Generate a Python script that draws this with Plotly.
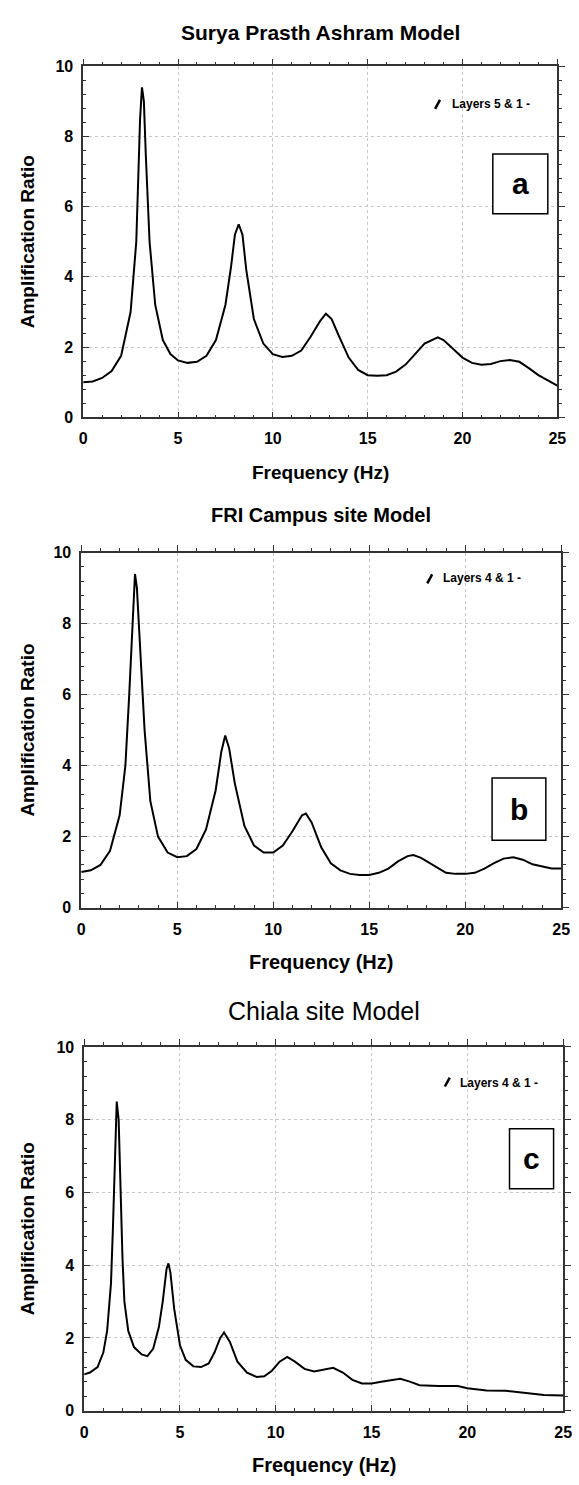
import plotly.graph_objects as go

W, H = 579, 1485

# ---------------- data ----------------
titles = ["Surya Prasth Ashram Model", "FRI Campus site Model", "Chiala site Model"]
legend_texts = ["Layers 5 & 1 -", "Layers 4 & 1 -", "Layers 4 & 1 -"]
panel_letters = ["a", "b", "c"]
x_ticks = [0, 5, 10, 15, 20, 25]
y_ticks = [0, 2, 4, 6, 8, 10]

freq_a = [0, 0.5, 1, 1.5, 2, 2.5, 2.8, 3.0, 3.1, 3.2, 3.3, 3.5, 3.8, 4.2, 4.6, 5, 5.5, 6, 6.5, 7,
          7.5, 7.8, 8.0, 8.2, 8.4, 8.6, 9.0, 9.5, 10, 10.5, 11, 11.5, 12, 12.5, 12.8, 13.1, 13.5,
          14, 14.5, 15, 15.5, 16, 16.5, 17, 17.5, 18, 18.7, 19, 19.5, 20, 20.5, 21, 21.5, 22,
          22.5, 23, 23.5, 24, 24.5, 25]
amp_a = [1.0, 1.02, 1.12, 1.32, 1.75, 3.0, 5.0, 8.5, 9.4, 9.0, 7.5, 5.0, 3.2, 2.2, 1.8, 1.62,
         1.55, 1.58, 1.75, 2.2, 3.2, 4.3, 5.2, 5.5, 5.2, 4.2, 2.8, 2.1, 1.8, 1.72, 1.75, 1.9,
         2.3, 2.75, 2.95, 2.8, 2.3, 1.7, 1.35, 1.2, 1.18, 1.2, 1.3, 1.5, 1.8, 2.1, 2.28, 2.2,
         1.95, 1.7, 1.55, 1.5, 1.52, 1.6, 1.63, 1.58, 1.4, 1.2, 1.05, 0.9]

freq_b = [0, 0.5, 1, 1.5, 2, 2.3, 2.5, 2.7, 2.8, 2.9, 3.1, 3.3, 3.6, 4, 4.5, 5, 5.5, 6, 6.5, 7,
          7.3, 7.5, 7.7, 8, 8.5, 9, 9.5, 10, 10.5, 11, 11.5, 11.7, 12, 12.5, 13, 13.5, 14, 14.5,
          15, 15.5, 16, 16.5, 17, 17.3, 17.7, 18.5, 19, 19.5, 20, 20.5, 21, 21.5, 22, 22.5, 23,
          23.5, 24, 24.5, 25]
amp_b = [1.0, 1.05, 1.2, 1.6, 2.6, 4.0, 6.0, 8.5, 9.4, 9.0, 7.0, 5.0, 3.0, 2.0, 1.55, 1.42,
         1.45, 1.65, 2.2, 3.3, 4.4, 4.85, 4.5, 3.5, 2.3, 1.75, 1.55, 1.55, 1.75, 2.15, 2.6,
         2.65, 2.4, 1.7, 1.25, 1.05, 0.95, 0.92, 0.92, 0.98, 1.1, 1.3, 1.45, 1.48, 1.4, 1.15,
         0.98, 0.95, 0.95, 0.98, 1.1, 1.25, 1.38, 1.42, 1.35, 1.22, 1.15, 1.1, 1.1]

freq_c = [0, 0.3, 0.7, 1.0, 1.2, 1.4, 1.5, 1.6, 1.7, 1.8, 1.9, 2.0, 2.1, 2.3, 2.6, 3.0, 3.3,
          3.6, 3.9, 4.1, 4.3, 4.4, 4.5, 4.7, 5.0, 5.3, 5.7, 6.1, 6.5, 6.8, 7.1, 7.3, 7.6, 8.0,
          8.5, 9.0, 9.4, 9.8, 10.2, 10.6, 11.0, 11.5, 12.0, 12.5, 13.0, 13.5, 14.0, 14.5, 15.0,
          15.5, 16.0, 16.5, 17.0, 17.5, 18.5, 19.5, 20.0, 21, 22, 23, 24, 25]
amp_c = [1.0, 1.05, 1.2, 1.6, 2.2, 3.5, 5.0, 7.0, 8.5, 8.0, 6.0, 4.2, 3.0, 2.2, 1.75, 1.55,
         1.5, 1.7, 2.3, 3.0, 3.9, 4.05, 3.8, 2.8, 1.8, 1.4, 1.22, 1.2, 1.3, 1.6, 2.0, 2.15,
         1.9, 1.35, 1.05, 0.93, 0.95, 1.1, 1.35, 1.48, 1.35, 1.15, 1.08, 1.12, 1.18, 1.05,
         0.85, 0.75, 0.75, 0.8, 0.85, 0.88, 0.8, 0.7, 0.68, 0.68, 0.62, 0.56, 0.55, 0.5, 0.43,
         0.42]

series = [(freq_a, amp_a), (freq_b, amp_b), (freq_c, amp_c)]

# ---------------- layout geometry (pixels) ----------------
plots = [  # x0, x1, ytop, ybottom
    (81, 566, 59, 414),
    (79, 570, 551, 910),
    (82, 572, 1051, 1419),
]
title_y = [25, 513, 1015]
title_size = [21, 20, 25]
title_bold = [True, True, False]
xtitle_y = [470, 965, 1474]
xtitle_size = [19, 20, 20]
# legend: slash segment (x0, y0, x1, y1) and text left position (x, y)
legend_slash = [(441, 102, 446, 93), (433, 582, 438, 573), (451, 1091, 456, 1082)]
legend_text_pos = [(456, 97), (447, 577), (464, 1087)]
# label boxes in data units: (f0, f1, a_bottom, a_top)
boxes = [(21.6, 24.5, 5.8, 7.5), (21.4, 24.2, 1.9, 3.65), (22.2, 24.5, 6.1, 7.75)]

FONT = "Liberation Sans, Arial, sans-serif"


def px(x):
    return x / W


def py(y):
    return 1 - y / H


fig = go.Figure()
layout = dict(width=W, height=H, autosize=False, margin=dict(l=0, r=0, t=0, b=0),
              paper_bgcolor="white", plot_bgcolor="white", showlegend=False,
              font=dict(family=FONT, color="black"))
annotations = []
shapes = []
AX = "#333333"
tickfont = dict(size=16, family=FONT, color="black", weight="bold")

for i, ((fx, fy), (x0, x1, yt, yb)) in enumerate(zip(series, plots)):
    n = i + 1
    xa = "x" if n == 1 else f"x{n}"
    ya = "y" if n == 1 else f"y{n}"
    fig.add_trace(go.Scatter(x=fx, y=fy, mode="lines", xaxis=xa, yaxis=ya,
                             line=dict(color="black", width=2), hoverinfo="skip"))
    dom_x = [px(x0), px(x1)]
    dom_y = [py(yb), py(yt)]
    common_x = dict(range=[0, 25], domain=dom_x, tickvals=x_ticks, ticks="inside", ticklen=6,
                    tickwidth=1, tickcolor=AX, showline=True, linecolor=AX, linewidth=1.5,
                    showgrid=True, gridcolor="#c8c8c8", griddash="dot", gridwidth=1,
                    zeroline=False, tickfont=tickfont, ticklabelstandoff=6,
                    minor=dict(dtick=1, ticks="inside", ticklen=3, tickcolor=AX, showgrid=False),
                    fixedrange=True)
    common_y = dict(range=[0, 10], domain=dom_y, tickvals=y_ticks, ticks="inside", ticklen=6,
                    tickwidth=1, tickcolor=AX, showline=True, linecolor=AX, linewidth=1.5,
                    showgrid=True, gridcolor="#c8c8c8", griddash="dot", gridwidth=1,
                    zeroline=False, tickfont=tickfont, ticklabelstandoff=5,
                    minor=dict(dtick=0.4, ticks="inside", ticklen=3, tickcolor=AX, showgrid=False),
                    fixedrange=True)
    layout["xaxis" if n == 1 else f"xaxis{n}"] = dict(common_x, anchor=ya)
    layout["yaxis" if n == 1 else f"yaxis{n}"] = dict(common_y, anchor=xa)

    # top & right overlay axes with outward ticks
    xo = f"x{n + 3}"
    yo = f"y{n + 3}"
    layout[f"xaxis{n + 3}"] = dict(range=[0, 25], domain=dom_x, overlaying=xa, side="top",
                                   anchor=ya, tickvals=x_ticks, ticks="outside", ticklen=6,
                                   tickcolor=AX, showticklabels=False, showline=True,
                                   linecolor=AX, linewidth=1.5, showgrid=False, zeroline=False,
                                   minor=dict(dtick=1, ticks="outside", ticklen=3, tickcolor=AX,
                                              showgrid=False), fixedrange=True)
    layout[f"yaxis{n + 3}"] = dict(range=[0, 10], domain=dom_y, overlaying=ya, side="right",
                                   anchor=xa, tickvals=y_ticks, ticks="outside", ticklen=6,
                                   tickcolor=AX, showticklabels=False, showline=True,
                                   linecolor=AX, linewidth=1.5, showgrid=False, zeroline=False,
                                   minor=dict(dtick=0.4, ticks="outside", ticklen=3,
                                              tickcolor=AX, showgrid=False), fixedrange=True)
    fig.add_trace(go.Scatter(x=[fx[0]], y=[fy[0]], mode="markers", xaxis=xo, yaxis=yo,
                             marker=dict(opacity=0), hoverinfo="skip"))

    cx = (x0 + x1) / 2
    t = f"<b>{titles[i]}</b>" if title_bold[i] else titles[i]
    annotations.append(dict(text=t, x=px(cx), y=py(title_y[i]), xref="paper", yref="paper",
                            showarrow=False, xanchor="center", yanchor="middle",
                            font=dict(size=title_size[i], family=FONT, color="black")))
    annotations.append(dict(text="<b>Frequency (Hz)</b>", x=px(cx), y=py(xtitle_y[i]),
                            xref="paper", yref="paper", showarrow=False, xanchor="center",
                            yanchor="middle",
                            font=dict(size=xtitle_size[i], family=FONT, color="black")))
    annotations.append(dict(text="<b>Amplification Ratio</b>", x=px(24), y=py((yt + yb) / 2),
                            xref="paper", yref="paper", showarrow=False, textangle=-90,
                            xanchor="center", yanchor="middle",
                            font=dict(size=19, family=FONT, color="black")))
    sx0, sy0, sx1, sy1 = legend_slash[i]
    shapes.append(dict(type="line", xref="paper", yref="paper", x0=px(sx0), y0=py(sy0),
                       x1=px(sx1), y1=py(sy1), line=dict(color="black", width=2.5)))
    lx, ly = legend_text_pos[i]
    annotations.append(dict(text=f"<b>{legend_texts[i]}</b>", x=px(lx), y=py(ly),
                            xref="paper", yref="paper", showarrow=False, xanchor="left",
                            yanchor="middle", font=dict(size=12, family=FONT, color="black")))
    f0, f1, a0, a1 = boxes[i]
    shapes.append(dict(type="rect", xref=xa, yref=ya, x0=f0, x1=f1, y0=a0, y1=a1,
                       line=dict(color="black", width=1.5), fillcolor="white", layer="above"))
    annotations.append(dict(text=f"<b>{panel_letters[i]}</b>", x=(f0 + f1) / 2,
                            y=(a0 + a1) / 2, xref=xa, yref=ya, showarrow=False,
                            xanchor="center", yanchor="middle",
                            font=dict(size=30, family=FONT, color="black")))

layout["annotations"] = annotations
layout["shapes"] = shapes
fig.update_layout(**layout)
fig.write_html("out.html")
